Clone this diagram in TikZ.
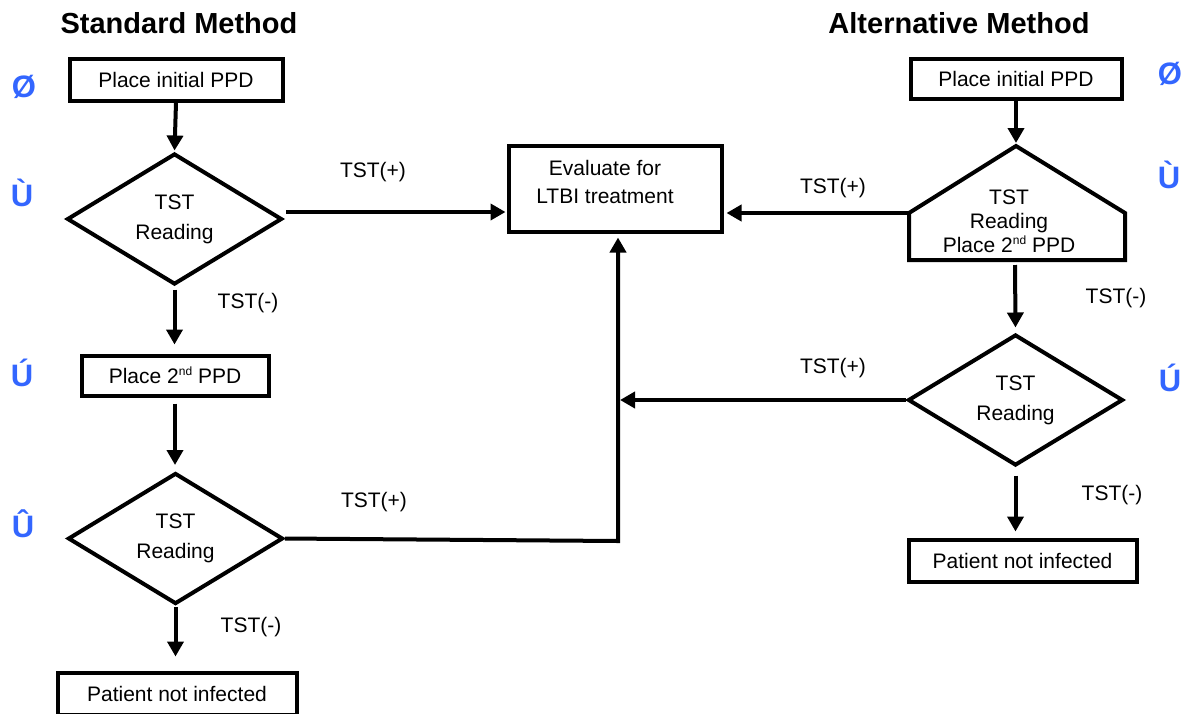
\documentclass[tikz,border=0pt]{standalone}
\usepackage{fontspec}
\setmainfont{Liberation Sans}
\usetikzlibrary{shapes.geometric,arrows.meta}
\definecolor{markblue}{RGB}{51,102,255}
\newcommand{\supnd}{\raisebox{8pt}{\fontsize{12}{12}\selectfont nd}}
\begin{document}
\begin{tikzpicture}[x=1pt,y=-1pt,
  line width=4pt,
  box/.style={draw,rectangle,inner sep=0pt,font=\fontsize{21}{28}\selectfont,align=center},
  dia/.style={draw,diamond,minimum width=215pt,minimum height=131pt,inner sep=0pt,font=\fontsize{21}{30}\selectfont,align=center},
  lbl/.style={font=\fontsize{21}{25}\selectfont,inner sep=0pt},
  txt/.style={font=\fontsize{21}{28}\selectfont,inner sep=0pt,align=center},
  markglyph/.style={font=\fontsize{31}{34}\bfseries\selectfont,text=markblue,inner sep=0pt},
  head/.style={font=\fontsize{29}{34}\bfseries\selectfont,inner sep=0pt},
  arr/.style={-{Triangle[length=15pt,width=16pt]}},
]
\clip (0,0) rectangle (1190,713);
\fill[white] (0,0) rectangle (1190,713);

% headings
\node[head] (hstd) at (179,23) {Standard Method};
\node[head] (halt) at (959,23) {Alternative Method};

% markers
\node[markglyph] (m1l) at (24,87) {Ø};
\node[markglyph] (m2l) at (22,193) {Ù};
\node[markglyph] (m3l) at (22,373) {Ú};
\node[markglyph] (m4l) at (23,524) {Û};
\node[markglyph] (m1r) at (1170,74) {Ø};
\node[markglyph] (m2r) at (1169,175) {Ù};
\node[markglyph] (m3r) at (1170,378) {Ú};

% standard method
\node[box,minimum width=213pt,minimum height=42pt] (lbox1) at (176,79.5) {Place initial PPD};
\node[dia] (d1) at (174.5,219) {TST\\Reading};
\node[box,minimum width=187pt,minimum height=40pt] (lbox2) at (175,375.5) {Place 2\supnd{} PPD};
\node[dia] (d2) at (175.5,538.5) {TST\\Reading};
\node[box,minimum width=239pt,minimum height=42pt] (lbox3) at (177,693.5) {Patient not infected};

% evaluate
\node[draw,rectangle,inner sep=0pt,minimum width=213pt,minimum height=86pt] (eval) at (615,188.5) {};
\node[txt] (evaltxt) at (605,181.5) {Evaluate for\\LTBI treatment};

% alternative method
\node[box,minimum width=211pt,minimum height=40pt] (rbox1) at (1016,78.5) {Place initial PPD};
\coordinate (papex) at (1016,146);
\coordinate (pl) at (909,213);
\coordinate (pr) at (1125,213);
\coordinate (pbl) at (909,260);
\coordinate (pbr) at (1125,260);
\coordinate (pbot) at (1015,260);
\draw[line join=miter] (papex) -- (pr) -- (pbr) -- (pbl) -- (pl) -- cycle;
\node[txt,font=\fontsize{21}{24}\selectfont] (ptxt) at (1009,221.5) {TST\\Reading\\Place 2\supnd{} PPD};
\node[dia] (d3) at (1015.5,400) {TST\\Reading};
\node[box,minimum width=228pt,minimum height=42pt] (rbox3) at (1022.5,560.5) {Patient not infected};

% junction points
\coordinate (d1r) at (286,212);
\coordinate (jmid) at (618,400);
\coordinate (jbot) at (618,541);

% connectors standard
\draw[arr,shorten >=1pt] (lbox1.south) -- (d1.north);
\draw[arr,shorten <=3pt,shorten >=9pt] (d1.south) -- (d1.south |- lbox2.north);
\draw[arr,shorten <=6pt,shorten >=6pt] (lbox2.south) -- (lbox2.south |- d2.north);
\draw[arr,shorten <=1pt,shorten >=14pt] (d2.south) -- (d2.south |- lbox3.north);
\draw[arr,shorten >=1pt] (d1r) -- (d1r -| eval.west);
\draw[arr,shorten >=4pt] (d2.east) -- (jbot) -- (jbot |- eval.south);

% connectors alternative
\draw[arr,shorten >=3pt] (rbox1.south) -- (papex);
\draw[arr,shorten >=3pt] (pl) -- (pl -| eval.east);
\draw[arr,shorten <=5pt,shorten >=5pt] (pbot) -- (d3.north);
\draw[arr,shorten <=8pt,shorten >=6pt] (d3.south) -- (d3.south |- rbox3.north);
\draw[arr,shorten >=2pt] (d3.west) -- (jmid);

% labels
\node[lbl] (l1) at (373,172) {TST(+)};
\node[lbl] (l2) at (833,188) {TST(+)};
\node[lbl] (l3) at (833,368) {TST(+)};
\node[lbl] (l4) at (374,502) {TST(+)};
\node[lbl] (l5) at (248,303) {TST(-)};
\node[lbl] (l6) at (1116,298) {TST(-)};
\node[lbl] (l7) at (1112,495) {TST(-)};
\node[lbl] (l8) at (251,627) {TST(-)};
\end{tikzpicture}
\end{document}
